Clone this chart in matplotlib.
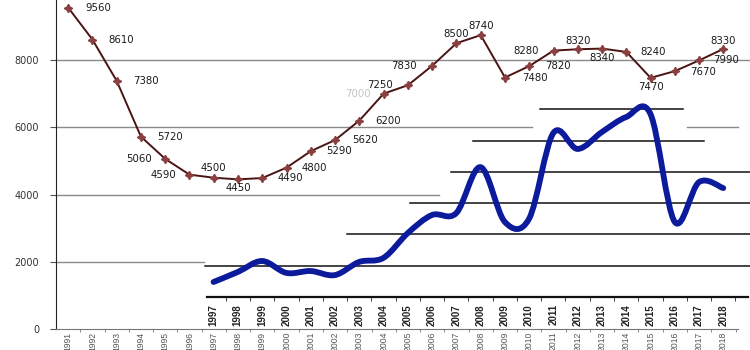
import matplotlib
matplotlib.use('Agg')
import matplotlib.pyplot as plt
from matplotlib.path import Path
from matplotlib.patches import PathPatch

# main series (brown line)
years = list(range(1991, 2019))
values = [9560, 8610, 7380, 5720, 5060, 4590, 4500, 4450, 4490, 4800,
          5290, 5620, 6200, 7000, 7250, 7830, 8500, 8740, 7480, 7820,
          8280, 8320, 8340, 8240, 7470, 7670, 7990, 8330]
# where each value label sits: (dx px, dy px, ha)
label_pos = [(17, 0, 'left'), (16, 0, 'left'), (16, 0, 'left'), (16, 0, 'left'),
             (-13, 0, 'right'), (-13, 0, 'right'), (0, 10, 'center'), (0, -9, 'center'),
             (15, 0, 'left'), (15, 0, 'left'), (15, 0, 'left'), (17, 0, 'left'),
             (16, 0, 'left'), (-13, 0, 'right'), (-15, 0, 'right'), (-15, 0, 'right'),
             (0, 9, 'center'), (0, 9, 'center'), (17, 0, 'left'), (16, 0, 'left'),
             (-15, 0, 'right'), (0, 8, 'center'), (0, -9, 'center'), (14, 0, 'left'),
             (0, -9, 'center'), (15, -1, 'left'), (14, 0, 'left'), (0, 8, 'center')]
faded = [2004]

# inset series (blue curve), values in inset grid units
inset_years = list(range(1997, 2019))
inset_values = [0.48, 0.80, 1.15, 0.77, 0.83, 0.70, 1.12, 1.25, 2.04, 2.62, 2.68,
                4.15, 2.40, 2.50, 5.24, 4.73, 5.27, 5.75, 5.85, 2.40, 3.67, 3.48]

# partly erased grid lines: (y, x from, x to)
main_grid = [(2000, 1990.5, 1996.6), (4000, 1990.5, 2006.3), (6000, 1990.5, 2010.1),
             (6000, 2016.5, 2018.6), (8000, 1990.5, 2019.2)]
inset_grid = [(1, 1996.65, 2019.1), (2, 2002.5, 2019.1), (3, 2005.1, 2019.1),
              (4, 2006.8, 2019.1), (5, 2007.7, 2017.2), (6, 2010.45, 2016.35)]

fig = plt.figure(figsize=(7.5, 3.5), dpi=100)
ax = fig.add_axes([56/750, 21/350, 682/750, 329/350])
ax.set_xlim(1990.5, 2018.6)
ax.set_ylim(0, 9785)
for s in ['top', 'right']:
    ax.spines[s].set_visible(False)
ax.spines['left'].set_color('#222222')
ax.spines['bottom'].set_color('#777777')
ax.set_yticks([0, 2000, 4000, 6000, 8000])
ax.set_yticklabels(['0', '2000', '4000', '6000', '8000'], fontsize=7, color='#333333')
ax.tick_params(axis='y', length=4, color='#555555', pad=8)
ax.set_xticks(years)
ax.set_xticks([y + 0.5 for y in years], minor=True)
ax.set_xticklabels([str(y) for y in years], rotation=90, fontsize=6.2, color='#555555',
                   family=['Liberation Sans Narrow', 'Liberation Sans', 'DejaVu Sans'])
ax.tick_params(axis='x', which='major', length=0, pad=2)
ax.tick_params(axis='x', which='minor', length=2, color='#777777')

for yv, x0, x1 in main_grid:
    ax.plot([x0, x1], [yv, yv], color='#8a8a8a', lw=1, clip_on=False, zorder=1)

ax.plot(years, values, color='#4a1414', lw=1.4, marker=(4, 1, 0), markersize=6,
        markerfacecolor='#8a4040', markeredgecolor='#8a4040', zorder=3)
for yr, v, (dx, dy, ha) in zip(years, values, label_pos):
    col = '#c4c4c4' if yr in faded else '#1a1a1a'
    ax.annotate(str(v), (yr, v), xytext=(dx, dy), textcoords='offset pixels',
                ha=ha, va='center', fontsize=7.3, color=col, zorder=4)

# inset chart
ax2 = fig.add_axes([207/750, 53/350, 541/750, 297/350])
ax2.patch.set_alpha(0)
ax2.set_xlim(1996.73, 2019.02)
ax2.set_ylim(0, 297/31.3)
for s in ['top', 'right', 'left']:
    ax2.spines[s].set_visible(False)
ax2.spines['bottom'].set_linewidth(1.6)
ax2.spines['bottom'].set_color('#111111')
ax2.set_yticks([])
ax2.set_xticks(inset_years)
ax2.set_xticks([y + 0.5 for y in inset_years], minor=True)
ax2.set_xticklabels([str(y) for y in inset_years], rotation=90, fontsize=7,
                    fontweight='bold', color='#222222', family=['Liberation Sans', 'DejaVu Sans'])
ax2.tick_params(axis='x', which='major', length=0, pad=5)
ax2.tick_params(axis='x', which='minor', length=3, color='#222222')

for yv, x0, x1 in inset_grid:
    ax2.plot([x0, x1], [yv, yv], color='#111111', lw=1.1, clip_on=False, zorder=1)

# smooth curve through the inset points (Catmull-Rom as bezier segments)
pts = list(zip(inset_years, inset_values))
verts = [pts[0]]
codes = [Path.MOVETO]
for i in range(len(pts) - 1):
    p0 = pts[i - 1] if i > 0 else pts[i]
    p1, p2 = pts[i], pts[i + 1]
    p3 = pts[i + 2] if i + 2 < len(pts) else pts[i + 1]
    c1 = (p1[0] + (p2[0] - p0[0]) / 6, p1[1] + (p2[1] - p0[1]) / 6)
    c2 = (p2[0] - (p3[0] - p1[0]) / 6, p2[1] - (p3[1] - p1[1]) / 6)
    verts += [c1, c2, p2]
    codes += [Path.CURVE4] * 3
ax2.add_patch(PathPatch(Path(verts, codes), fill=False, edgecolor='#0c1a9c', lw=4.2,
                        capstyle='round', joinstyle='round', zorder=3))

fig.savefig('out.png', dpi=100)
